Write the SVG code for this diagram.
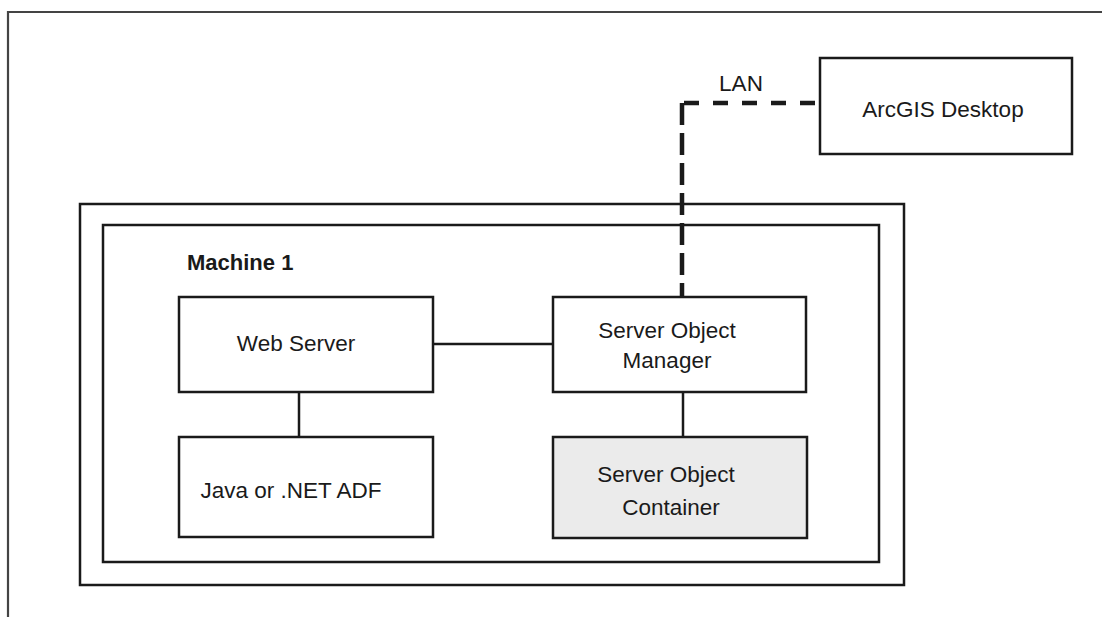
<svg xmlns="http://www.w3.org/2000/svg" width="1106" height="617" viewBox="0 0 1106 617">
<style>
.box{fill:#fff;stroke:#1a1a1a;stroke-width:2.5}
.frame{fill:none;stroke:#1a1a1a;stroke-width:2.5}
.t{font-family:"Liberation Sans",Arial,sans-serif;font-size:22.5px;fill:#1a1a1a;text-anchor:middle}
.b{font-family:"Liberation Sans",Arial,sans-serif;font-size:22px;font-weight:bold;fill:#1a1a1a}
.conn{stroke:#1a1a1a;stroke-width:2.5;fill:none}
.lan{stroke:#1a1a1a;stroke-width:4.5;fill:none}
</style>
<rect width="1106" height="617" fill="#fff"/>
<g id="page-frame">
<path d="M8 617 V12 H1102" fill="none" stroke="#444" stroke-width="2.2"/>
</g>
<g id="machine-outer">
<rect class="frame" x="80" y="204" width="824" height="381"/>
</g>
<g id="machine-1">
<rect class="frame" x="103" y="225" width="776" height="337"/>
<text class="b" x="187" y="270">Machine 1</text>
</g>
<g id="connectors">
<path class="lan" d="M684 103 H819" stroke-dasharray="15 14"/>
<path class="lan" d="M682 103 V297" stroke-dasharray="22 8"/>
<path class="conn" d="M433 344 H553"/>
<path class="conn" d="M299 392 V437"/>
<path class="conn" d="M683 392 V437"/>
<text class="t" x="741" y="91">LAN</text>
</g>
<g id="arcgis-desktop">
<rect class="box" x="820" y="58" width="252" height="96"/>
<text class="t" x="943" y="117">ArcGIS Desktop</text>
</g>
<g id="web-server">
<rect class="box" x="179" y="297" width="254" height="95"/>
<text class="t" x="296" y="351">Web Server</text>
</g>
<g id="server-object-manager">
<rect class="box" x="553" y="297" width="253" height="95"/>
<text class="t" x="667" y="338">Server Object</text>
<text class="t" x="667" y="368">Manager</text>
</g>
<g id="java-net-adf">
<rect class="box" x="179" y="437" width="254" height="100"/>
<text class="t" x="291" y="498">Java or .NET ADF</text>
</g>
<g id="server-object-container">
<rect class="box" x="553" y="437" width="254" height="101" style="fill:#ebebeb"/>
<text class="t" x="666" y="482">Server Object</text>
<text class="t" x="671" y="515">Container</text>
</g>
</svg>
